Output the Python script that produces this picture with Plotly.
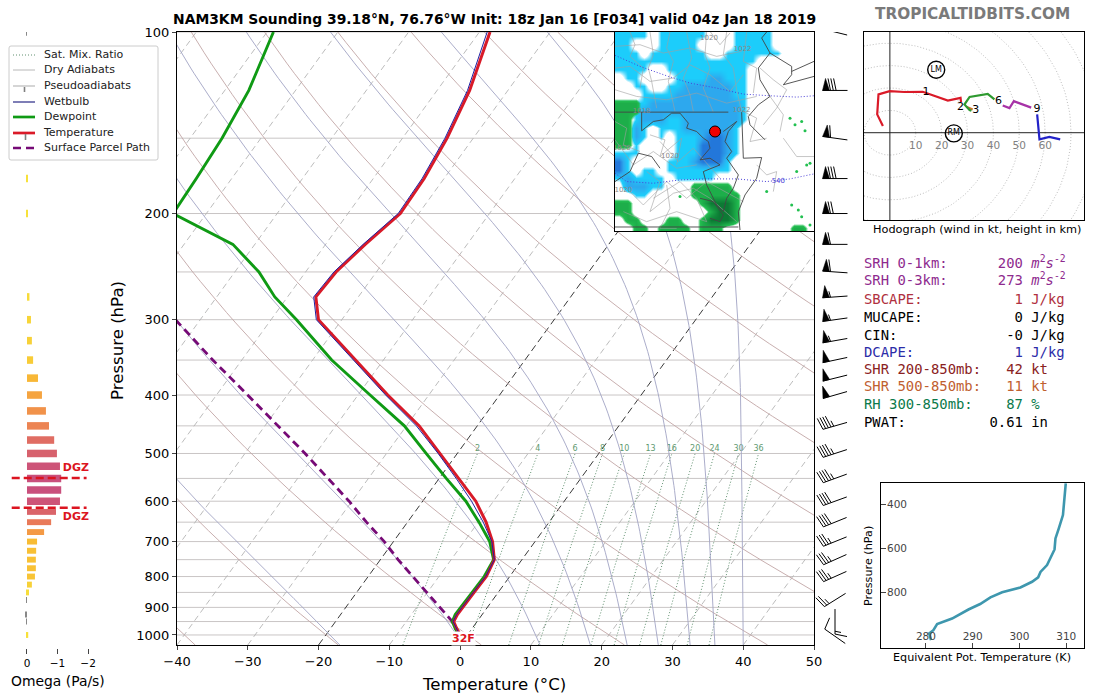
import numpy as np
import plotly.graph_objects as go
from plotly.colors import sample_colorscale

# ---------- sounding data ----------
pres = [100, 125, 150, 175, 200, 225, 250, 275, 300, 350, 400, 450, 500, 550, 600,
        650, 700, 750, 800, 850, 900, 925, 950, 975, 1000, 1025]
temp = [-58.5, -55.4, -53.7, -52.8, -52.6, -54.4, -55.7, -56.0, -53.3, -44.0, -35.8, -28.2, -22.4, -17.2, -12.5,
        -8.9, -6.0, -3.9, -3.3, -3.4, -3.5, -3.5, -3.3, -2.2, -1.0, 0.05]
wetbulb = [-58.9, -55.7, -54.0, -53.1, -52.9, -54.7, -56.0, -56.3, -53.6, -44.3, -36.1, -28.6, -22.7, -17.6, -13.1,
           -9.3, -6.1, -3.9, -3.4, -3.5, -3.6, -3.6, -3.4, -2.2, -1.0, 0.05]
dewp = [-89.1, -86.6, -85.5, -85.0, -84.7, -73.1, -66.6, -61.8, -56.4, -47.3, -38.3, -30.3, -24.4, -19.0, -13.9,
        -9.9, -6.4, -4.0, -3.6, -3.7, -3.8, -3.8, -3.5, -2.4, -1.2, 0.0]
parcel_pres = [300, 350, 400, 450, 500, 550, 600, 650, 700, 750, 800, 850, 900, 925, 950, 1000, 1025]
parcel_temp = [-73.5, -64.1, -55.6, -48.1, -41.5, -35.7, -30.4, -25.8, -21.3, -17.5, -13.7, -10.1, -6.7, -5.1, -3.5, -1.2, 0.05]

mix_ratios = [2, 4, 6, 8, 10, 13, 16, 20, 24, 30, 36]
grid_pres = list(range(100, 1001, 50))
isotherms = list(range(-110, 51, 10))
dry_thetas = list(range(-40, 201, 20))
moist_starts = [-17, 0.5, 11.3, 18.4, 23.6, 28, 32.5, 36, 40]

omega_pres = [100, 175, 200, 275, 300, 325, 350, 375, 400, 425, 450, 475, 500, 525, 550, 575, 600, 625,
              650, 675, 700, 725, 750, 775, 800, 825, 850, 875, 925, 950, 1000]
omega = [0.01, -0.03, -0.03, -0.08, -0.13, -0.16, -0.2, -0.36, -0.49, -0.62, -0.72, -0.89, -0.98, -1.08, -1.12, -1.12, -1.08, -0.95,
         -0.79, -0.56, -0.33, -0.3, -0.29, -0.29, -0.26, -0.16, -0.065, 0.02, 0.05, 0.02, -0.04]
dgz_pres = [549, 615]

barb_pres = [100, 125, 150, 175, 200, 225, 250, 275, 300, 325, 350, 375, 400, 450, 500, 550, 600, 650, 700, 750, 800, 875, 950, 1005]
barb_speed = [60, 80, 60, 80, 70, 60, 60, 55, 55, 55, 50, 50, 50, 45, 45, 45, 40, 40, 35, 35, 35, 25, 15, 10]
barb_dir = [284, 270, 278, 270, 270, 270, 274, 266, 262, 260, 258, 256, 254, 254, 252, 250, 250, 248, 248, 246, 246, 238, 180, 305]

theta_e = [309.9, 309.5, 309.3, 308.4, 307.7, 307.5, 305.9, 304.5, 304.0, 302.7, 300.2, 296.3, 293.8, 291.6, 289.1, 285.6, 282.4, 281.6, 280.7, 281.1]
theta_e_pres = [303, 394, 447, 508, 553, 603, 674, 705, 730, 750, 776, 798, 821, 851, 876, 917, 942, 970, 985, 1015]

hodo_u_0_2 = [-2.7, -4.9, -4.4, -0.1, 5.6, 12.7, 15.7, 22.4, 27.3, 27.5]
hodo_v_0_2 = [3.0, 8.2, 17.1, 18.6, 18.2, 18.3, 17.1, 14.4, 15.6, 13.7]
hodo_u_2_3 = [29.5, 32.0]
hodo_v_2_3 = [11.6, 10.4]
hodo_u_3_6 = [31.5, 30.8, 28.8, 30.8, 37.8, 40.4]
hodo_v_3_6 = [9.8, 10.1, 12.6, 16.0, 17.3, 14.9]
hodo_u_6_9 = [43.6, 46.2, 47.9, 54.6]
hodo_v_6_9 = [12.2, 11.0, 14.1, 11.2]
hodo_u_top = [56.9, 57.8, 61.6, 65.8]
hodo_v_top = [8.2, -3.0, -1.9, -3.0]
hodo_heights = ["1", "2", "3", "6", "9"]
hodo_height_u = [14.0, 27.3, 33.2, 42.0, 56.8]
hodo_height_v = [18.0, 11.2, 10.0, 14.0, 10.6]
hodo_rings = list(range(10, 91, 10))
hodo_ring_labels = [10, 20, 30, 40, 50, 60]
storm_names = ["LM", "RM"]
storm_u = [17.9, 24.7]
storm_v = [28.1, -0.3]

stat_labels = ["SRH 0-1km:", "SRH 0-3km:", "SBCAPE:", "MUCAPE:", "CIN:", "DCAPE:", "SHR 200-850mb:", "SHR 500-850mb:", "RH 300-850mb:", "PWAT:"]
stat_values = ["200", "273", "1", "0", "-0", "1", "42", "11", "87", "0.61"]
stat_units = ["<i>m</i><sup>2</sup><i>s</i><sup>-2</sup>", "<i>m</i><sup>2</sup><i>s</i><sup>-2</sup>", "J/kg", "J/kg", "J/kg", "J/kg", "kt", "kt", "%", "in"]
stat_colors = ["#8E2A8E", "#8E2A8E", "#B03040", "#000000", "#000000", "#2C2CA8", "#8A2222", "#BF6030", "#0B7A4B", "#000000"]
stat_rows_px = [263, 280, 300, 318, 336, 353, 370, 387, 405, 423]

legend_names = ["Sat. Mix. Ratio", "Dry Adiabats", "Pseudoadiabats", "Wetbulb", "Dewpoint", "Temperature", "Surface Parcel Path"]
legend_colors = ["#4F8560", "#B0B0B0", "#A2A2A2", "#14147A", "#0F9A14", "#DA1A28", "#760A76"]
legend_widths = [0.9, 0.9, 0.9, 1.1, 2.7, 2.7, 2.7]
legend_dashes = ["1px,2px", "solid", "solid", "solid", "solid", "solid", "8px,5px"]
legend_rows_px = [55, 70, 86, 102, 117, 133, 148]

# inset map: coded precipitation cells (rows top to bottom), 0 = nothing
snow_rows = [
    "111101111110001111100000",
    "110001111100001111100000",
    "111011111110011111110000",
    "111111111111111110000000",
    "111100111111111100000000",
    "011000011112211100000000",
    "001100112222221100000000",
    "000111122222221100000000",
    "111122222222222100000000",
    "111222222222222100000000",
    "001222112222222100000000",
    "002101112222221000000000",
    "002101011123321000000000",
    "001000011133321000000000",
    "111000011133321000000000",
    "310000111233310000000000",
    "310110111111110000000000",
    "121111011111000000000000",
    "022211000000000000000000",
    "001100000000000000000000",
    "000000000000000000000000",
    "000000000000000000000000",
    "000000000000000000000000",
    "000000000000000000000000",
]
rain_rows = [
    "000000000000000000000000",
    "000000000000000000000000",
    "000000000000000000000000",
    "000000000000000000000000",
    "000000000000000000000000",
    "000000000000000000000000",
    "000000000000000000000000",
    "000000000000000000000000",
    "111000000000000000000000",
    "111000000000000000000000",
    "110000000000000000000000",
    "110000000000000000000000",
    "110000000000000000000000",
    "110000000000000000000000",
    "000000000000000000000000",
    "000000000000000000000000",
    "000000000000000000000000",
    "000000000000000000000000",
    "000000000111110000000000",
    "000000000111111000000000",
    "110000000012221000000000",
    "110000000001221000000000",
    "011000110012221000000000",
    "001101111011100000000110",
]
speck_x = [540, 555, 575, 585, 560, 590, 600, 545, 565, 575, 600, 470, 210]
speck_y = [280, 300, 290, 318, 440, 420, 415, 540, 555, 575, 600, 500, 515]
state_lines = [
    ([15, 355], [262, 262]),
    ([95, 95, 130, 160, 185, 210, 235, 230, 260, 280, 295, 300, 270], [262, 318, 290, 285, 265, 265, 295, 310, 320, 340, 350, 370, 405]),
    ([395, 400, 455, 440, 405, 385, 390], [262, 400, 398, 460, 510, 560, 615]),
    ([470, 455, 480, 545, 545, 520], [22, 40, 85, 125, 150, 180]),
    ([480, 445, 450, 480, 445, 415, 420, 465], [85, 130, 165, 215, 240, 275, 300, 345]),
    ([545, 612], [140, 110]),
    ([612, 560, 520], [155, 170, 180]),
    ([340, 380, 355, 345, 365, 350, 385, 370, 350, 340, 320, 290, 280, 330, 300, 270],
     [320, 290, 320, 350, 380, 400, 450, 490, 520, 560, 540, 480, 440, 420, 400, 405]),
    ([15, 385], [606, 606]),
    ([15, 60, 85, 125, 150], [470, 440, 385, 395, 430]),
    ([270, 310, 340, 330, 300], [520, 530, 570, 590, 580]),
]
county_lines = [
    ([15, 60, 120, 190, 240, 300, 360, 400], [130, 125, 170, 160, 120, 150, 200, 150]),
    ([120, 130, 115, 125, 140], [22, 90, 130, 170, 250]),
    ([230, 245, 220, 240, 250], [22, 100, 160, 210, 260]),
    ([350, 340, 370, 380, 395], [22, 90, 130, 195, 260]),
    ([15, 80, 170, 260, 350, 440], [195, 215, 225, 205, 235, 215]),
    ([450, 490, 530, 500, 460], [130, 165, 195, 250, 300]),
    ([480, 520, 510], [215, 270, 320]),
    ([520, 560, 612], [340, 395, 395]),
    ([15, 70, 130, 200, 260], [345, 420, 380, 430, 420]),
    ([60, 100, 170, 230, 290, 400], [500, 540, 470, 520, 470, 530]),
    ([40, 110, 200, 290, 260, 210, 130], [560, 590, 560, 590, 520, 470, 520]),
    ([150, 205, 250, 330], [350, 410, 370, 460]),
    ([170, 180, 150, 200], [480, 550, 610, 610]),
    ([400, 440, 420, 470], [260, 280, 350, 340]),
    ([300, 330, 360], [20, 60, 25]),
    ([60, 75, 60, 100, 90], [22, 60, 95, 130, 190]),
    ([180, 170, 190, 175, 195], [22, 70, 110, 170, 260]),
    ([290, 285, 300, 280, 310], [22, 90, 130, 190, 262]),
    ([15, 90, 160, 240, 320, 395], [65, 60, 85, 70, 95, 80]),
    ([410, 400, 440, 430], [22, 110, 130, 205]),
    ([15, 50, 40, 90], [290, 310, 360, 380]),
    ([120, 165, 150, 215, 200], [330, 345, 395, 340, 420]),
    ([440, 470, 500, 490], [420, 450, 440, 500]),
    ([110, 150, 120, 190, 250, 300, 380], [440, 470, 560, 505, 490, 520, 590]),
]
contour_lines = [
    ([15, 90, 175, 240, 320, 400, 480, 560, 612], [92, 125, 155, 175, 190, 208, 213, 217, 213]),
    ([15, 50, 130, 210, 290, 380, 470, 540, 612], [445, 470, 475, 465, 462, 462, 470, 462, 447]),
]
map_pres_text = ["1020", "1022", "1018", "1022", "1020", "1020", "1020"]
map_pres_x = [297, 398, 95, 395, 180, 35, 40]
map_pres_y = [42, 75, 258, 257, 395, 370, 495]
map_thick_text = ["540"]
map_thick_x = [505]
map_thick_y = [470]
station_x = [315]
station_y = [320]

# ---------- helpers ----------
W, H = 1100, 700
SKEW = 61.7  # deg C per decade of pressure
P_BOTTOM = 1039.0
FONT = "DejaVu Sans"


def dom_x(a, b):
    return [a / W, b / W]


def dom_y(top, bottom):
    return [1 - bottom / H, 1 - top / H]


def skew(t, p):
    return np.asarray(t, float) + SKEW * (np.log10(P_BOTTOM) - np.log10(np.asarray(p, float)))


def mix_td(w, p):
    e = w * p / (622.0 + w)
    l = np.log(e / 6.112)
    return 243.5 * l / (17.67 - l)


def moist_profile(t0, levels):
    # integrate the saturated lapse rate from the bottom level up
    out = [t0]
    t = t0 + 273.15
    for i in range(1, len(levels)):
        p = levels[i - 1]
        dp = levels[i] - p
        es = 6.112 * np.exp(17.67 * (t - 273.15) / (t - 29.65))
        r = 0.622 * es / (p - es)
        grad = (287.0 * t + 2.5e6 * r) / (1004.0 + 2.5e6 ** 2 * r * 0.622 / (287.0 * t * t)) / p
        t += grad * dp
        out.append(t - 273.15)
    return np.array(out)


def lines(pairs):
    xs, ys = [], []
    for a, b in pairs:
        xs += list(a) + [None]
        ys += list(b) + [None]
    return xs, ys


def barb_shapes(p, speed, direction, cx=835.0, half=12.5):
    rad = np.radians(direction)
    dx, dy = np.sin(rad), -np.cos(rad)
    px, py = -dy, dx
    if py > 0:
        px, py = -px, -py
    ly = np.log10(p)
    conv = lambda x, y: (cx + x, ly + y / 603.0)
    staff = [conv(-half * dx, -half * dy), conv(half * dx, half * dy)]
    segs, tris = [staff], []
    pos = half
    rest = int(round(speed / 5.0) * 5)
    while rest >= 50:
        a = conv(pos * dx, pos * dy)
        b = conv((pos - 7) * dx, (pos - 7) * dy)
        c = conv((pos - 3) * dx + 12 * px, (pos - 3) * dy + 12 * py)
        tris.append([a, c, b, a])
        pos -= 8
        rest -= 50
    while rest >= 10:
        a = conv(pos * dx, pos * dy)
        c = conv((pos + 2.5) * dx + 12 * px, (pos + 2.5) * dy + 12 * py)
        segs.append([a, c])
        pos -= 2.8
        rest -= 10
    if rest >= 5:
        a = conv(pos * dx, pos * dy)
        c = conv((pos + 1.2) * dx + 6 * px, (pos + 1.2) * dy + 6 * py)
        segs.append([a, c])
    return segs, tris


fig = go.Figure()

# ---------- main skew-T ----------
levels = np.geomspace(P_BOTTOM, 100, 60)
hx, hy = lines([([-40, 50], [p, p]) for p in grid_pres])
fig.add_trace(go.Scatter(x=hx, y=hy, mode="lines", line=dict(color="#C9C5C5", width=1), showlegend=False, hoverinfo="skip"))

gray_t = [t for t in isotherms if t not in (0, -20)]
ix, iy = lines([(skew([t, t], [P_BOTTOM, 100]), [P_BOTTOM, 100]) for t in gray_t])
fig.add_trace(go.Scatter(x=ix, y=iy, mode="lines", line=dict(color="#B4B4B4", width=0.9, dash="6px,4px"), showlegend=False, hoverinfo="skip"))
ix, iy = lines([(skew([t, t], [P_BOTTOM, 100]), [P_BOTTOM, 100]) for t in (0, -20)])
fig.add_trace(go.Scatter(x=ix, y=iy, mode="lines", line=dict(color="#222222", width=0.9, dash="7px,4px"), showlegend=False, hoverinfo="skip"))

# mixing ratio
mix_levels = np.geomspace(P_BOTTOM, 500, 12)
mx, my = lines([(skew(mix_td(w, mix_levels), mix_levels), mix_levels) for w in mix_ratios])
fig.add_trace(go.Scatter(x=mx, y=my, mode="lines", line=dict(color="#4F8560", width=0.9, dash="1px,2px"), showlegend=False, hoverinfo="skip"))
fig.add_trace(go.Scatter(x=skew(mix_td(np.array(mix_ratios, float), 500.0), [500.0] * len(mix_ratios)), y=[491.0] * len(mix_ratios),
                         mode="text", text=[str(w) for w in mix_ratios], textfont=dict(size=8, color="#5E9A70", family=FONT),
                         showlegend=False, hoverinfo="skip"))

# dry adiabats
dx_, dy_ = lines([(skew((th + 273.15) * (levels / 1000.0) ** 0.286 - 273.15, levels), levels) for th in dry_thetas])
fig.add_trace(go.Scatter(x=dx_, y=dy_, mode="lines", line=dict(color="#C2A6A6", width=0.9), showlegend=False, hoverinfo="skip"))
# pseudoadiabats
moist_levels = np.geomspace(P_BOTTOM, 100, 120)
wx, wy = lines([(skew(moist_profile(t0, moist_levels), moist_levels), moist_levels) for t0 in moist_starts])
fig.add_trace(go.Scatter(x=wx, y=wy, mode="lines", line=dict(color="#A2A4C4", width=0.9), showlegend=False, hoverinfo="skip"))

fig.add_trace(go.Scatter(x=skew(parcel_temp, parcel_pres), y=parcel_pres, mode="lines", showlegend=False,
                         line=dict(color="#760A76", width=2.8, dash="8px,5px")))
fig.add_trace(go.Scatter(x=skew(dewp, pres), y=pres, mode="lines", showlegend=False, line=dict(color="#0F9A14", width=2.9)))
fig.add_trace(go.Scatter(x=skew(temp, pres), y=pres, mode="lines", showlegend=False, line=dict(color="#D81A28", width=3)))
fig.add_trace(go.Scatter(x=skew(wetbulb, pres), y=pres, mode="lines", showlegend=False, line=dict(color="#2020A0", width=1)))

# ---------- omega panel ----------
scale = [[0, "#F7E53B"], [0.3, "#F8BB34"], [0.5, "#F49A45"], [0.72, "#E8785A"], [1, "#C94F7C"]]
om_colors = ["#888888" if v > 0 else sample_colorscale(scale, [min(-v / 1.12, 1)])[0] for v in omega]
om_y = np.log10(omega_pres)
om_w = [0.0125 if p < 610 else 0.0098 for p in omega_pres]
fig.add_trace(go.Bar(x=omega, y=om_y, orientation="h", width=om_w, marker=dict(color=om_colors, line_width=0),
                     base=0, xaxis="x2", yaxis="y2", showlegend=False))
for p in dgz_pres:
    fig.add_trace(go.Scatter(x=[0.5, -1.95], y=[np.log10(p)] * 2, mode="lines", xaxis="x2", yaxis="y2", showlegend=False,
                             line=dict(color="#DC1420", width=2.6, dash="8px,4px")))
fig.add_trace(go.Scatter(x=[-1.6, -1.6], y=[np.log10(dgz_pres[0]) - 0.0165, np.log10(dgz_pres[1]) + 0.0165], mode="text",
                         text=["DGZ", "DGZ"], textfont=dict(color="#DC1420", size=11, family=FONT, weight="bold"),
                         xaxis="x2", yaxis="y2", showlegend=False))

# ---------- wind barbs ----------
seg_list, tri_list = [], []
for p, s, d in zip(barb_pres, barb_speed, barb_dir):
    segs, tris = barb_shapes(p, s, d)
    seg_list += segs
    tri_list += tris
sx, sy = lines([([q[0] for q in seg], [q[1] for q in seg]) for seg in seg_list])
tx, ty = lines([([q[0] for q in tri], [q[1] for q in tri]) for tri in tri_list])
fig.add_trace(go.Scatter(x=sx, y=sy, mode="lines", line=dict(color="black", width=1), xaxis="x3", yaxis="y3", showlegend=False))
fig.add_trace(go.Scatter(x=tx, y=ty, mode="lines", fill="toself", fillcolor="black", line=dict(color="black", width=0.5),
                         xaxis="x3", yaxis="y3", showlegend=False))

# ---------- hodograph ----------
ang = np.linspace(0, 2 * np.pi, 181)
rx, ry = lines([(r * np.cos(ang), r * np.sin(ang)) for r in hodo_rings])
fig.add_trace(go.Scatter(x=rx, y=ry, mode="lines", line=dict(color="#B5B5B5", width=0.9, dash="1px,2px"), xaxis="x4", yaxis="y4", showlegend=False))
fig.add_trace(go.Scatter(x=[-10, 75, None, 0, 0], y=[0, 0, None, -39, 45], mode="lines", line=dict(color="#222222", width=1),
                         xaxis="x4", yaxis="y4", showlegend=False))
for u, v, c in [(hodo_u_0_2, hodo_v_0_2, "#DA1A28"), (hodo_u_2_3, hodo_v_2_3, "#C9752E"), (hodo_u_3_6, hodo_v_3_6, "#2E9A30"),
                (hodo_u_6_9, hodo_v_6_9, "#A733A7"), (hodo_u_top, hodo_v_top, "#2222C8")]:
    fig.add_trace(go.Scatter(x=u, y=v, mode="lines", line=dict(color=c, width=2.2), xaxis="x4", yaxis="y4", showlegend=False))
fig.add_trace(go.Scatter(x=hodo_height_u, y=hodo_height_v, mode="text", text=hodo_heights, textfont=dict(size=11, color="black", family=FONT),
                         xaxis="x4", yaxis="y4", showlegend=False))
fig.add_trace(go.Scatter(x=hodo_ring_labels, y=[-6.1] * len(hodo_ring_labels), mode="text", text=[str(r) for r in hodo_ring_labels],
                         textfont=dict(size=10.5, color="#808080", family=FONT), xaxis="x4", yaxis="y4", showlegend=False))
fig.add_trace(go.Scatter(x=storm_u, y=storm_v, mode="markers+text", text=storm_names, textposition="middle center",
                         marker=dict(size=17, color="rgba(255,255,255,0)", line=dict(color="black", width=1.4)),
                         textfont=dict(size=8, color="black", family=FONT), xaxis="x4", yaxis="y4", showlegend=False))

# ---------- equivalent potential temperature ----------
fig.add_trace(go.Scatter(x=theta_e, y=theta_e_pres, mode="lines", line=dict(color="#3E97AE", width=2.6), xaxis="x5", yaxis="y5", showlegend=False))

# ---------- inset map ----------
snow = [[int(c) for c in row] for row in snow_rows]
rain = [[int(c) for c in row] for row in rain_rows]
fig.add_trace(go.Heatmap(z=snow, x0=27.5, dx=25, y0=34.5, dy=25, zmin=0, zmax=3, zsmooth="best", showscale=False, xaxis="x6", yaxis="y6",
                         colorscale=[[0, "#FFFFFF"], [0.18, "#FFFFFF"], [0.33, "#1CCDFB"], [0.66, "#2DA9EE"], [1, "#2377DA"]], hoverinfo="skip"))
fig.add_trace(go.Heatmap(z=rain, x0=27.5, dx=25, y0=34.5, dy=25, zmin=0, zmax=2, zsmooth="best", showscale=False, xaxis="x6", yaxis="y6",
                         colorscale=[[0, "rgba(255,255,255,0)"], [0.22, "rgba(30,190,80,0)"], [0.35, "#22BE50"], [1, "#0C7A34"]], hoverinfo="skip"))
fig.add_trace(go.Scatter(x=speck_x, y=speck_y, mode="markers", marker=dict(size=3, color="#22C050"), xaxis="x6", yaxis="y6", showlegend=False))
cx_, cy_ = lines(county_lines)
fig.add_trace(go.Scatter(x=cx_, y=cy_, mode="lines", line=dict(color="#A0A0A0", width=0.6), xaxis="x6", yaxis="y6", showlegend=False))
cx_, cy_ = lines(contour_lines)
fig.add_trace(go.Scatter(x=cx_, y=cy_, mode="lines", line=dict(color="#4A40D8", width=1, dash="1px,2px"), xaxis="x6", yaxis="y6", showlegend=False))
cx_, cy_ = lines(state_lines)
fig.add_trace(go.Scatter(x=cx_, y=cy_, mode="lines", line=dict(color="#444444", width=0.9), xaxis="x6", yaxis="y6", showlegend=False))
fig.add_trace(go.Scatter(x=map_pres_x, y=map_pres_y, mode="text", text=map_pres_text, xaxis="x6", yaxis="y6", showlegend=False,
                         textfont=dict(size=7, color="#888888", family=FONT)))
fig.add_trace(go.Scatter(x=map_thick_x, y=map_thick_y, mode="text", text=map_thick_text, xaxis="x6", yaxis="y6", showlegend=False,
                         textfont=dict(size=7, color="#4A40D8", family=FONT)))
fig.add_trace(go.Scatter(x=station_x, y=station_y, mode="markers", marker=dict(size=11, color="#F00000", line=dict(color="black", width=1)),
                         xaxis="x6", yaxis="y6", showlegend=False))

# ---------- hand made legend, on its own pixel axes ----------
for name, col, wid, dash, y in zip(legend_names, legend_colors, legend_widths, legend_dashes, legend_rows_px):
    fig.add_trace(go.Scatter(x=[13, 35], y=[y, y], mode="lines", line=dict(color=col, width=wid, dash=dash), xaxis="x7", yaxis="y7", showlegend=False))
    fig.add_trace(go.Scatter(x=[44], y=[y], mode="text", text=[name], textposition="middle right", textfont=dict(size=11, color="#222222", family=FONT),
                             xaxis="x7", yaxis="y7", showlegend=False))
fig.add_trace(go.Scatter(x=[24.5, 24.5, None, 25.5, 25.5], y=[87, 92, None, 134, 140], mode="lines", line=dict(color="#808080", width=1.6),
                         xaxis="x7", yaxis="y7", showlegend=False))

# ---------- texts ----------
ann = []


def txt(x, y, s, size, color="black", bold=False, anchor="center", angle=0, family=FONT):
    ann.append(dict(x=x / W, y=1 - y / H, xref="paper", yref="paper", text=s, showarrow=False, xanchor=anchor, yanchor="middle",
                    textangle=angle, font=dict(size=size, color=color, family=family, weight="bold" if bold else "normal")))


txt(494, 19, "NAM3KM Sounding 39.18°N, 76.76°W Init: 18z Jan 16 [F034] valid 04z Jan 18 2019", 13.9, bold=True)
txt(972, 14, "TROPICALTIDBITS.COM", 15.3, color="#7A7A7A", bold=True)
txt(494, 684, "Temperature (°C)", 16.6)
txt(118, 341, "Pressure (hPa)", 16.6, angle=-90)
txt(58, 681, "Omega (Pa/s)", 13.9)
txt(977, 230, "Hodograph (wind in kt, height in km)", 11.3)
txt(982, 657, "Equivalent Pot. Temperature (K)", 11.2)
txt(868, 566, "Pressure (hPa)", 11.2, angle=-90)
ann.append(dict(x=463 / W, y=1 - 646 / H, xref="paper", yref="paper", text="32F", showarrow=False, bgcolor="white", borderpad=0,
                font=dict(size=11, color="#DC1420", family=FONT, weight="bold")))
for lab, val, unit, col, y in zip(stat_labels, stat_values, stat_units, stat_colors, stat_rows_px):
    row = (lab.ljust(19 - len(val)) + val + " " + unit).replace(" ", "\u00a0")
    txt(862, y - 1, row, 13.9, color=col, anchor="left", family="DejaVu Sans Mono")

ax_line = dict(showline=True, linecolor="black", linewidth=1.2, mirror=True, showgrid=False, zeroline=False)
hidden = dict(visible=False, showgrid=False, zeroline=False)
log_range = [float(np.log10(P_BOTTOM)), 2]

fig.update_layout(
    template="none", width=W, height=H, margin=dict(l=0, r=0, t=0, b=0, pad=0), autosize=False, showlegend=False,
    paper_bgcolor="white", plot_bgcolor="rgba(0,0,0,0)", font=dict(family=FONT, color="black"),
    barmode="overlay", annotations=ann,
    shapes=[dict(type="path", xref="x7", yref="y7", line=dict(color="#CCCCCC", width=1), fillcolor="rgba(255,255,255,0.8)", layer="below",
                 path="M 11,46 L 156,46 Q 158,46 158,48 L 158,158 Q 158,160 156,160 L 11,160 Q 9,160 9,158 L 9,48 Q 9,46 11,46 Z")],
    xaxis=dict(domain=dom_x(177, 814), range=[-40, 50], tickvals=list(range(-40, 51, 10)), ticks="outside", ticklen=4,
               tickfont=dict(size=13), **ax_line),
    yaxis=dict(domain=dom_y(32, 645), type="log", range=log_range, tickvals=list(range(100, 1001, 100)),
               ticktext=[str(v) for v in range(100, 1001, 100)], ticks="outside", ticklen=4, tickfont=dict(size=13), **ax_line),
    xaxis2=dict(domain=dom_x(5, 100), range=[0.72, -2.39], tickvals=[0, -1, -2], ticktext=["0", "\u22121", "\u22122"], ticks="outside", ticklen=5,
                tickfont=dict(size=10.5), anchor="free", position=1 - 648 / H, side="bottom", showline=False, showgrid=False, zeroline=False),
    yaxis2=dict(domain=dom_y(32, 645), range=log_range, anchor="x2", **hidden),
    xaxis3=dict(domain=dom_x(815, 860), range=[815, 860], anchor="y3", **hidden),
    yaxis3=dict(domain=dom_y(32, 645), range=log_range, anchor="x3", **hidden),
    xaxis4=dict(domain=dom_x(864, 1084), range=[-10, 75], anchor="y4", showticklabels=False, ticks="", **ax_line),
    yaxis4=dict(domain=dom_y(32, 220), range=[-39, 45], anchor="x4", showticklabels=False, ticks="", **ax_line),
    xaxis5=dict(domain=dom_x(881, 1084), range=[270.4, 313.8], anchor="y5", tickvals=[280, 290, 300, 310], ticks="inside", ticklen=5,
                ticklabelposition="inside", tickfont=dict(size=10.5), **ax_line),
    yaxis5=dict(domain=dom_y(483, 648), range=[1051, 301], anchor="x5", tickvals=[400, 600, 800, 1000], ticktext=["400", "600", "800", ""],
                ticks="inside", ticklen=5, ticklabelposition="inside", tickfont=dict(size=10.5), **ax_line),
    xaxis6=dict(domain=dom_x(615, 814), range=[15, 612], anchor="y6", showticklabels=False, ticks="", **ax_line),
    yaxis6=dict(domain=dom_y(32, 231), range=[618, 22], anchor="x6", showticklabels=False, ticks="", **ax_line),
    xaxis7=dict(domain=[0, 1], range=[0, W], anchor="y7", **hidden),
    yaxis7=dict(domain=[0, 1], range=[H, 0], anchor="x7", **hidden),
)

fig.write_html("out.html", post_script="document.body.style.margin='0';", config=dict(displayModeBar=False))
